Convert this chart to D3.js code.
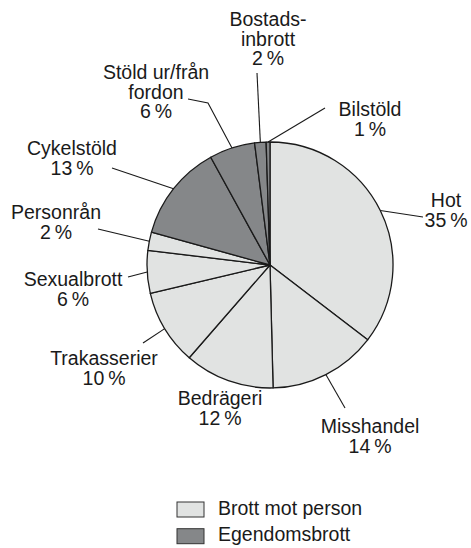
<!DOCTYPE html>
<html>
<head>
<meta charset="utf-8">
<script src="https://cdn.jsdelivr.net/npm/d3@7"></script>
<style>
body { margin:0; background:#ffffff; }
text { font-family:"Liberation Sans", Arial, sans-serif; font-size:19.5px; fill:#1a1a1a; }
</style>
</head>
<body>
<svg id="graph1"></svg>
<script>

// slices, clockwise from 12 o'clock
var categories = ["Hot","Misshandel","Bedrägeri","Trakasserier","Sexualbrott","Personrån","Cykelstöld","Stöld ur/från fordon","Bostadsinbrott","Bilstöld"]
var shares = [35.4,14.2,11.8,9.9,5.6,2.4,12.7,6.0,1.5,0.5]
var percents = [35,14,12,10,6,2,13,6,2,1]
var groups = ["Brott mot person","Brott mot person","Brott mot person","Brott mot person","Brott mot person","Brott mot person","Egendomsbrott","Egendomsbrott","Egendomsbrott","Egendomsbrott"]
var legendNames = ["Brott mot person","Egendomsbrott"]

// label text lines and where they sit
var labelLayout = {
    "Hot": {lines:["Hot"], x:446, y:207, leader:[[423,217]]},
    "Misshandel": {lines:["Misshandel"], x:370, y:433, leader:[[345,408]]},
    "Bedrägeri": {lines:["Bedrägeri"], x:220, y:405, leader:null},
    "Trakasserier": {lines:["Trakasserier"], x:104, y:365, leader:[[143,343]]},
    "Sexualbrott": {lines:["Sexualbrott"], x:73, y:286, leader:[[128,277]]},
    "Personrån": {lines:["Personrån"], x:56, y:219, leader:[[98,229]]},
    "Cykelstöld": {lines:["Cykelstöld"], x:72, y:155, leader:[[112,168]]},
    "Stöld ur/från fordon": {lines:["Stöld ur/från","fordon"], x:156, y:79, leader:[[208,103],[188,99]]},
    "Bostadsinbrott": {lines:["Bostads-","inbrott"], x:268, y:26, leader:[[257,73]]},
    "Bilstöld": {lines:["Bilstöld"], x:370, y:116, leader:[[325,108]]}
}

var initGraph1 = function()
{
    var screen = {width:471,height:548}
    var center = {x:270,y:265}
    var radius = 123
    var lineGap = 19.5

    var svg = d3.select("#graph1")
        .attr("width",screen.width)
        .attr("height",screen.height)

    var color = d3.scaleOrdinal()
        .domain(legendNames)
        .range(["#e1e3e2","#858789"])

    var data = categories.map(function(c,i)
    {
        return {name:c, share:shares[i], pct:percents[i], group:groups[i]}
    })

    var pie = d3.pie()
        .sort(null)
        .value(function(d){ return d.share })
    var arcs = pie(data)

    var arc = d3.arc().innerRadius(0).outerRadius(radius)

    var target = svg.append("g")
        .attr("transform","translate("+center.x+","+center.y+")")

    target.selectAll("path")
        .data(arcs)
        .enter()
        .append("path")
        .attr("d",arc)
        .attr("fill",function(a){ return color(a.data.group) })
        .attr("stroke","#1a1a1a")
        .attr("stroke-width",1.3)
        .attr("stroke-linejoin","round")

    //leaders
    var leaders = svg.append("g")
    arcs.forEach(function(a)
    {
        var lay = labelLayout[a.data.name]
        if (!lay.leader) { return }
        var mid = (a.startAngle+a.endAngle)/2
        var pts = [[center.x+radius*Math.sin(mid), center.y-radius*Math.cos(mid)]].concat(lay.leader)
        leaders.append("path")
            .attr("d",d3.line()(pts))
            .attr("fill","none")
            .attr("stroke","#1a1a1a")
            .attr("stroke-width",1.1)
    })

    //labels
    var labels = svg.append("g")
    arcs.forEach(function(a)
    {
        var lay = labelLayout[a.data.name]
        var lines = lay.lines.concat([a.data.pct+"\u2009%"])
        var t = labels.append("text")
            .attr("text-anchor","middle")
        lines.forEach(function(l,i)
        {
            t.append("tspan")
                .attr("x",lay.x)
                .attr("y",lay.y+i*lineGap)
                .text(l)
        })
    })

    //legend
    var legend = svg.append("g")
        .selectAll("g")
        .data(legendNames)
        .enter()
        .append("g")
        .attr("transform",function(d,i){ return "translate(177,"+(502+i*26.7)+")" })
    legend.append("rect")
        .attr("width",27)
        .attr("height",15)
        .attr("fill",function(d){ return color(d) })
        .attr("stroke","#333333")
        .attr("stroke-width",1)
    legend.append("text")
        .attr("x",41)
        .attr("y",12.5)
        .text(function(d){ return d })
}

initGraph1()
</script>
</body>
</html>
